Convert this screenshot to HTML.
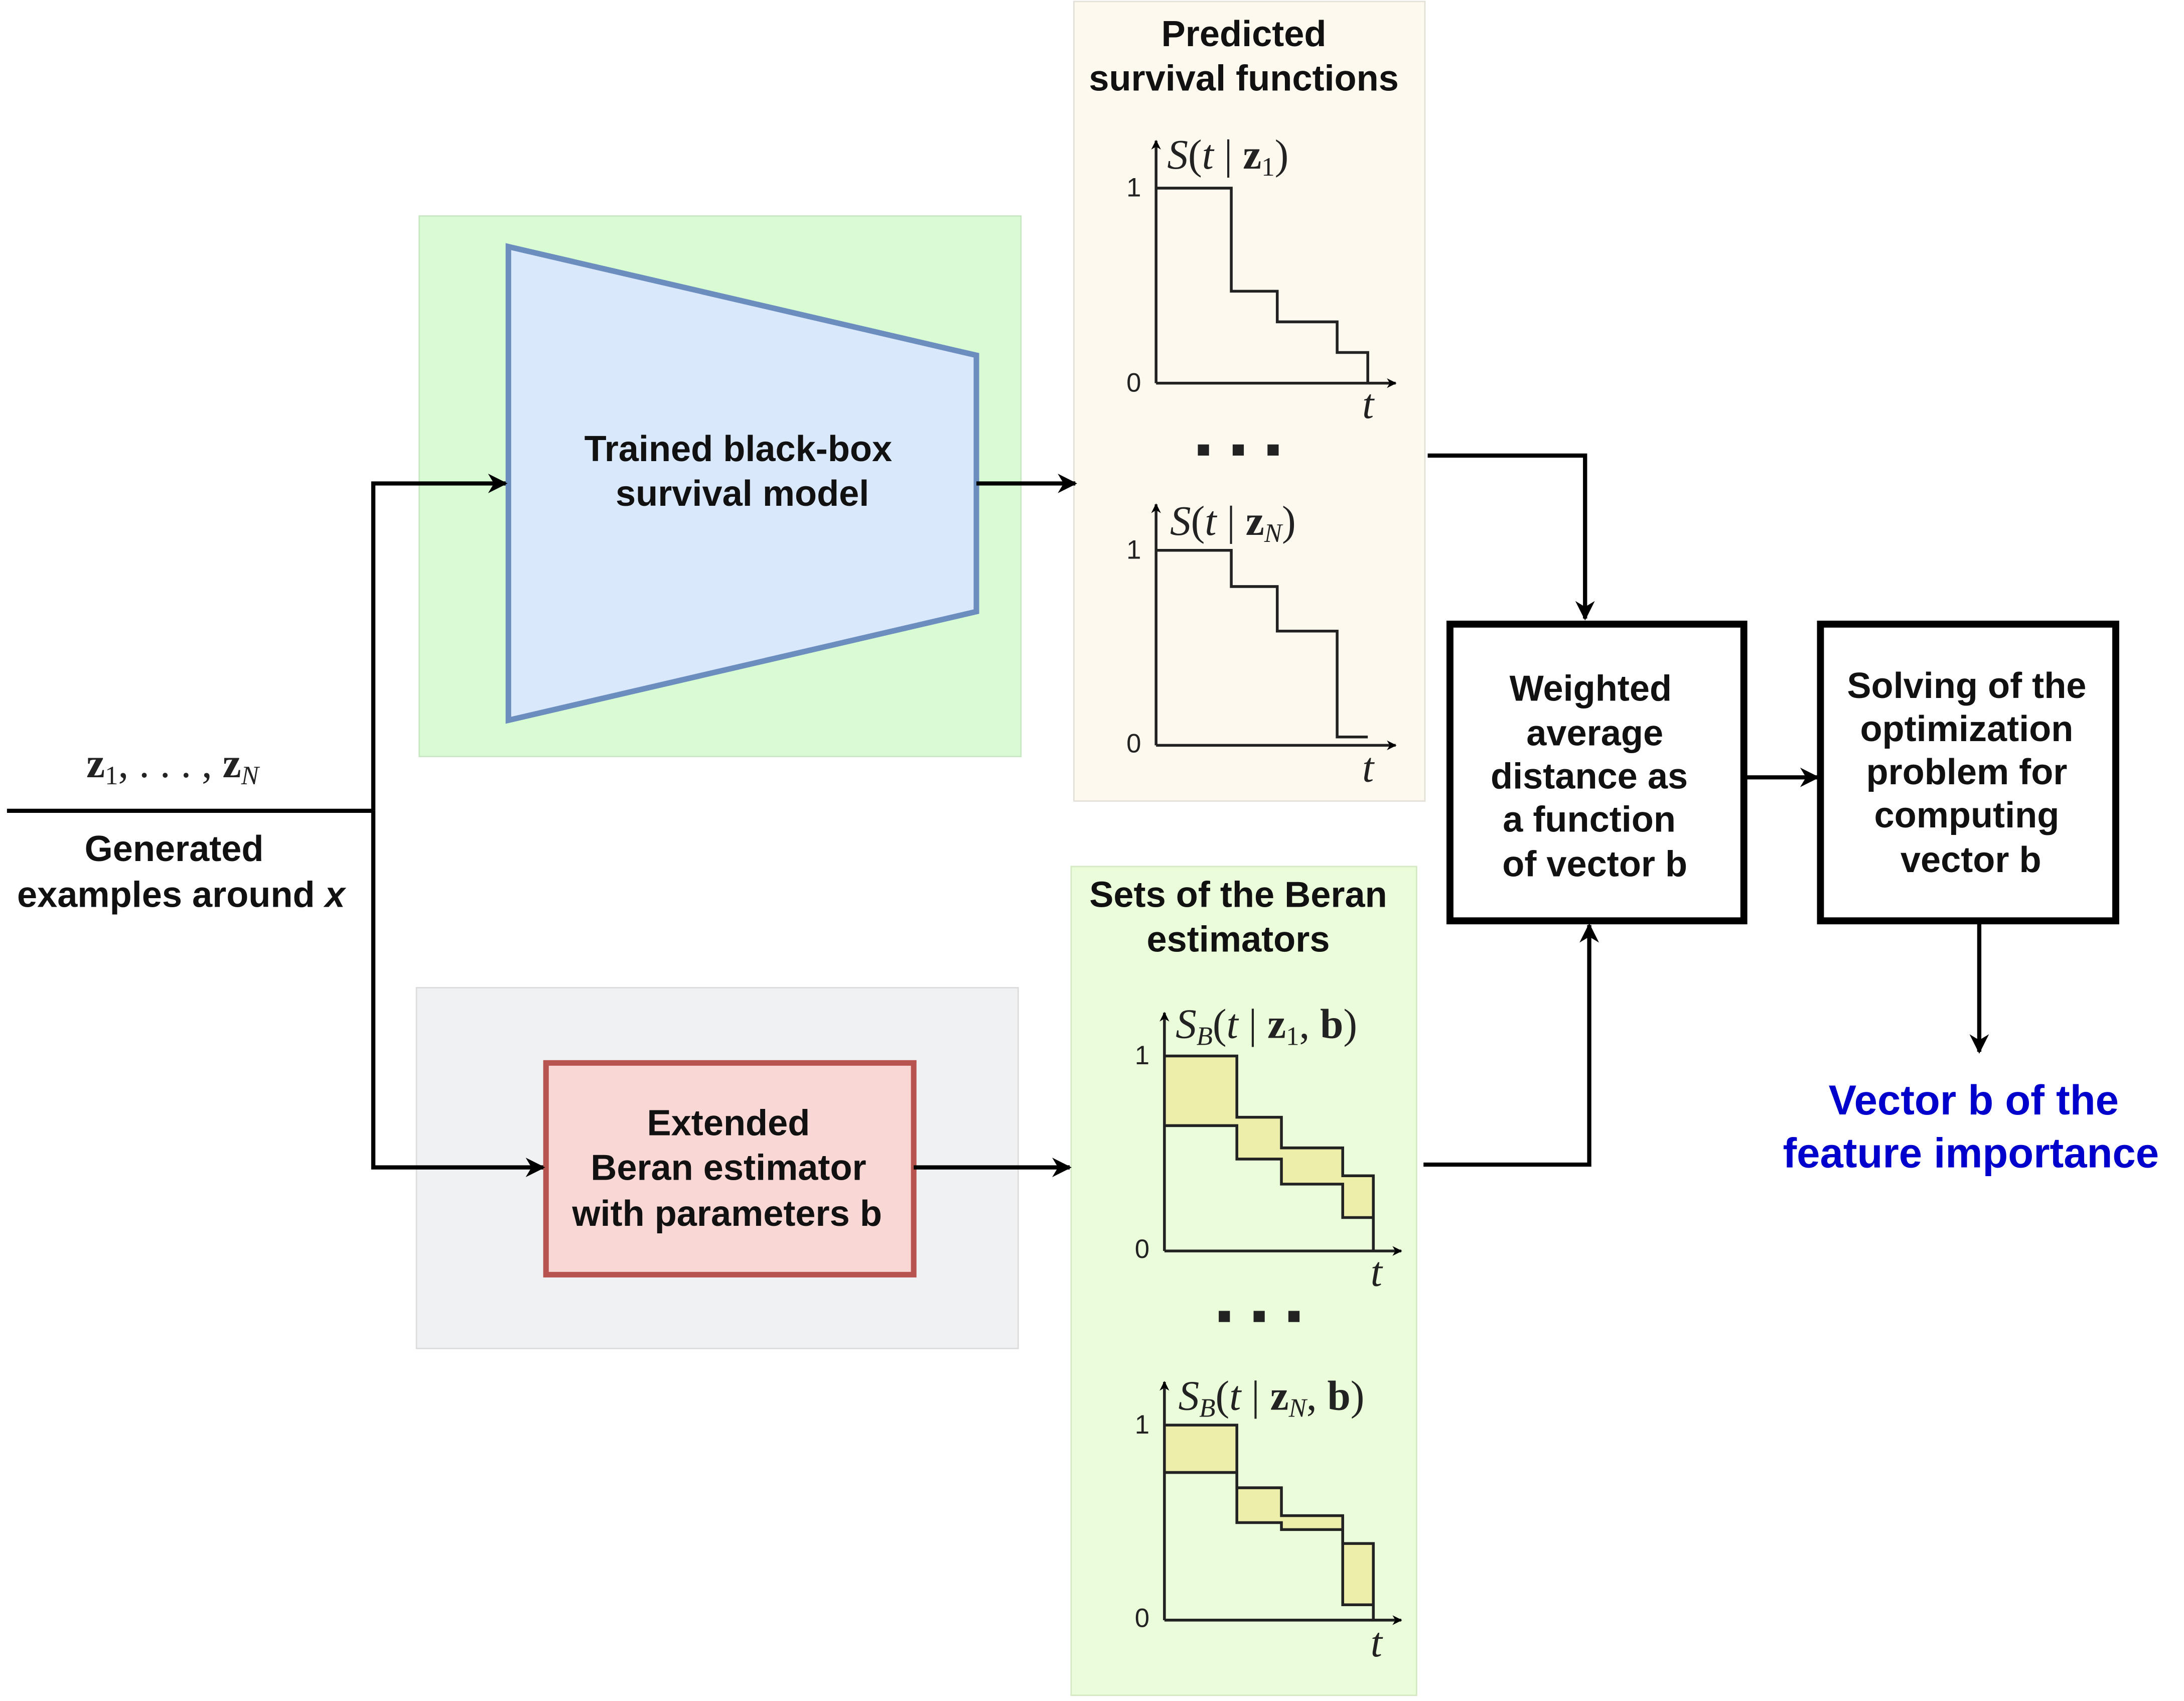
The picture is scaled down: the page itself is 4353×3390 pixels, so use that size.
<!DOCTYPE html>
<html><head><meta charset="utf-8"><style>
html,body{margin:0;padding:0;background:#fff;}
svg{display:block;}
.b{font-family:"Liberation Sans",sans-serif;font-weight:bold;font-size:26px;fill:#111;text-anchor:middle;}
.n{font-family:"Liberation Sans",sans-serif;font-size:19px;fill:#222;text-anchor:middle;}
.m{font-family:"Liberation Serif",serif;font-size:30px;fill:#222;}
.i{font-style:italic;}
</style></head><body>
<svg width="4353" height="3390" viewBox="0 0 1568 1221" xmlns="http://www.w3.org/2000/svg">
<defs>
<marker id="a" viewBox="0 0 10 10" refX="9" refY="5" markerWidth="7" markerHeight="7" orient="auto" markerUnits="userSpaceOnUse"><path d="M0,0 L10,5 L0,10 L3,5z" fill="#000"/></marker>
<marker id="ab" viewBox="0 0 10 10" refX="9" refY="5" markerWidth="14" markerHeight="14" orient="auto" markerUnits="userSpaceOnUse"><path d="M0,0 L10,5 L0,10 L3,5z" fill="#000"/></marker>
</defs>
<rect x="301" y="155" width="432" height="388" fill="#d8fbd4" stroke="#c8e8c4"/>
<rect x="299" y="709" width="432" height="259" fill="#f0f1f3" stroke="#dcdcdc"/>
<rect x="771" y="1" width="252" height="574" fill="#fdf9ef" stroke="#e3e0d8"/>
<rect x="769" y="622" width="248" height="595" fill="#eafcd9" stroke="#d4e8c4"/>
<polygon points="365,177 701,255 701,439 365,517" fill="#dae8fc" stroke="#6c8ebf" stroke-width="4"/>
<text class="b" x="530" y="331">Trained black-box</text>
<text class="b" x="533" y="363">survival model</text>
<rect x="392" y="763" width="264" height="152" fill="#f8d7d4" stroke="#b85450" stroke-width="4"/>
<text class="b" x="523" y="815">Extended</text>
<text class="b" x="523" y="847">Beran estimator</text>
<text class="b" x="522" y="880">with parameters b</text>
<text class="b" x="893" y="33">Predicted</text>
<text class="b" x="893" y="65">survival functions</text>
<g stroke="#222" stroke-width="2" fill="none">
<line x1="830" y1="275" x2="830" y2="101" marker-end="url(#a)"/>
<line x1="830" y1="275" x2="1002" y2="275" marker-end="url(#a)"/>
<polyline points="830,135 884,135 884,209 917,209 917,231 960,231 960,253 982,253 982,275"/>
<line x1="830" y1="535" x2="830" y2="362" marker-end="url(#a)"/>
<line x1="830" y1="535" x2="1002" y2="535" marker-end="url(#a)"/>
<polyline points="830,395 884,395 884,421 917,421 917,453 960,453 960,529 982,529"/>
</g>
<text class="n" x="814" y="141">1</text><text class="n" x="814" y="281">0</text>
<text class="m i" x="978" y="300">t</text>
<text class="m" x="838" y="121"><tspan class="i">S</tspan>(<tspan class="i">t</tspan> | <tspan font-weight="bold">z</tspan><tspan font-size="19" dy="5">1</tspan><tspan dy="-5">)</tspan></text>
<text class="n" x="814" y="401">1</text><text class="n" x="814" y="540">0</text>
<text class="m i" x="978" y="561">t</text>
<text class="m" x="840" y="384"><tspan class="i">S</tspan>(<tspan class="i">t</tspan> | <tspan font-weight="bold">z</tspan><tspan font-size="19" dy="5" class="i">N</tspan><tspan dy="-5">)</tspan></text>
<g fill="#222"><rect x="860" y="319" width="8" height="8"/><rect x="885" y="319" width="8" height="8"/><rect x="910" y="319" width="8" height="8"/></g>
<text class="b" x="889" y="651">Sets of the Beran</text>
<text class="b" x="889" y="683">estimators</text>
<path d="M836,758 H888 V802 H920 V824 H964 V844 H986 V874 H964 V850 H920 V832 H888 V808 H836Z" fill="#eeeeab"/>
<path d="M836,1023 H888 V1068 H920 V1088 H964 V1108 H986 V1152 H964 V1098 H920 V1093 H888 V1057 H836Z" fill="#eeeeab"/>
<g stroke="#222" stroke-width="2" fill="none">
<line x1="836" y1="898" x2="836" y2="727" marker-end="url(#a)"/>
<line x1="836" y1="898" x2="1006" y2="898" marker-end="url(#a)"/>
<polyline points="836,758 888,758 888,802 920,802 920,824 964,824 964,844 986,844 986,898"/>
<polyline points="836,808 888,808 888,832 920,832 920,850 964,850 964,874 986,874"/>
<line x1="836" y1="1163" x2="836" y2="992" marker-end="url(#a)"/>
<line x1="836" y1="1163" x2="1006" y2="1163" marker-end="url(#a)"/>
<polyline points="836,1023 888,1023 888,1068 920,1068 920,1088 964,1088 964,1108 986,1108 986,1163"/>
<polyline points="836,1057 888,1057 888,1093 920,1093 920,1098 964,1098 964,1152 986,1152"/>
</g>
<text class="n" x="820" y="764">1</text><text class="n" x="820" y="903">0</text>
<text class="m i" x="984" y="923">t</text>
<text class="m" x="844" y="745"><tspan class="i">S</tspan><tspan font-size="19" dy="5" class="i">B</tspan><tspan dy="-5">(</tspan><tspan class="i">t</tspan> | <tspan font-weight="bold">z</tspan><tspan font-size="19" dy="5">1</tspan><tspan dy="-5">, </tspan><tspan font-weight="bold">b</tspan>)</text>
<text class="n" x="820" y="1029">1</text><text class="n" x="820" y="1168">0</text>
<text class="m i" x="984" y="1189">t</text>
<text class="m" x="846" y="1012"><tspan class="i">S</tspan><tspan font-size="19" dy="5" class="i">B</tspan><tspan dy="-5">(</tspan><tspan class="i">t</tspan> | <tspan font-weight="bold">z</tspan><tspan font-size="19" dy="5" class="i">N</tspan><tspan dy="-5">, </tspan><tspan font-weight="bold">b</tspan>)</text>
<g fill="#222"><rect x="875" y="941" width="8" height="8"/><rect x="900" y="941" width="8" height="8"/><rect x="925" y="941" width="8" height="8"/></g>
<rect x="1041" y="448" width="211" height="213" fill="#fff" stroke="#000" stroke-width="5"/>
<text class="b" x="1142" y="503">Weighted</text>
<text class="b" x="1145" y="535">average</text>
<text class="b" x="1141" y="566">distance as</text>
<text class="b" x="1141" y="597">a function</text>
<text class="b" x="1145" y="629">of vector b</text>
<rect x="1307" y="448" width="212" height="213" fill="#fff" stroke="#000" stroke-width="5"/>
<text class="b" x="1412" y="501">Solving of the</text>
<text class="b" x="1412" y="532">optimization</text>
<text class="b" x="1412" y="563">problem for</text>
<text class="b" x="1412" y="594">computing</text>
<text class="b" x="1415" y="626">vector b</text>
<text class="b" x="1417" y="800" style="fill:#0000cc;font-size:30px">Vector b of the</text>
<text class="b" x="1415" y="838" style="fill:#0000cc;font-size:30px">feature importance</text>
<text class="m" x="62" y="558"><tspan font-weight="bold">z</tspan><tspan font-size="19" dy="5">1</tspan><tspan dy="-5">, . . . , </tspan><tspan font-weight="bold">z</tspan><tspan font-size="19" dy="5" class="i">N</tspan></text>
<text class="b" x="125" y="618">Generated</text>
<text class="b" x="130" y="651">examples around <tspan font-style="italic">x</tspan></text>
<g stroke="#000" stroke-width="3" fill="none">
<line x1="5" y1="582" x2="268" y2="582"/>
<polyline points="268,582 268,347 363,347" marker-end="url(#ab)"/>
<polyline points="268,582 268,838 390,838" marker-end="url(#ab)"/>
<line x1="701" y1="347" x2="772" y2="347" marker-end="url(#ab)"/>
<line x1="656" y1="838" x2="768" y2="838" marker-end="url(#ab)"/>
<polyline points="1025,327 1138,327 1138,444" marker-end="url(#ab)"/>
<polyline points="1022,836 1141,836 1141,664" marker-end="url(#ab)"/>
<line x1="1252" y1="558" x2="1305" y2="558" marker-end="url(#ab)"/>
<line x1="1421" y1="661" x2="1421" y2="755" marker-end="url(#ab)"/>
</g>
</svg>
</body></html>
